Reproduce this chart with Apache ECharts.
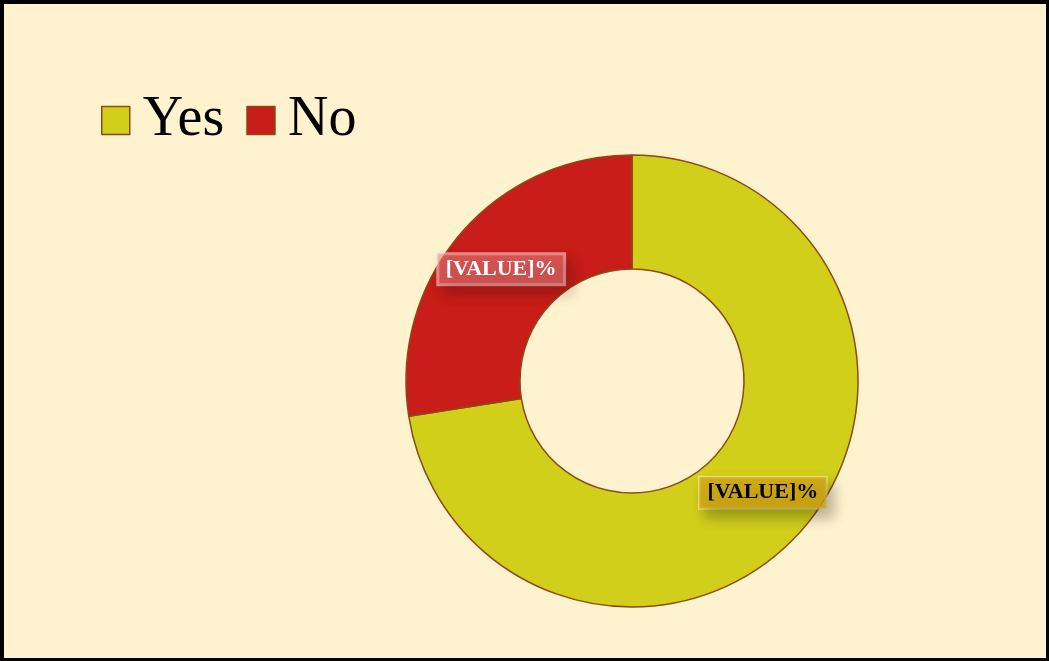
<!DOCTYPE html>
<html>
<head>
<meta charset="UTF-8">
<script src="https://cdn.jsdelivr.net/npm/echarts@6/dist/echarts.min.js"></script>
<style>
  html, body { margin: 0; padding: 0; width: 100%; height: 100%; background: #fff; }
  #main { position: absolute; left: 0; top: 0; width: 1049px; height: 661px; background: #FFF2CF; }
  #frame {
    position: absolute; left: 0; top: 0; width: 1049px; height: 661px;
    box-sizing: border-box; pointer-events: none;
    border-top: 4px solid #000; border-left: 4px solid #000;
    border-right: 3px solid #000; border-bottom: 3px solid #000;
  }
</style>
</head>
<body>
<div id="main"></div>
<div id="frame"></div>
<script>
  const categories = ['Yes', 'No'];
  const values = [72.5, 27.5];
  const colors = ['#D2CF1B', '#C81D19'];

  const chart = echarts.init(document.getElementById('main'));

  const labelStyles = [
    { color: '#000', backgroundColor: 'rgba(210,165,20,0.8)', borderColor: 'rgba(255,240,180,0.6)' },
    { color: '#fff', backgroundColor: 'rgba(240,130,130,0.55)', borderColor: 'rgba(255,220,220,0.6)' }
  ];

  const option = {
    backgroundColor: '#FFF2CF',
    legend: {
      left: 96,
      top: 87,
      icon: 'rect',
      itemWidth: 28,
      itemHeight: 28,
      itemGap: 22,
      textStyle: {
        fontFamily: 'Liberation Serif', fontSize: 56, color: '#000',
        lineHeight: 57, padding: [0, 0, 0, 8]
      },
      itemStyle: { borderColor: '#8B4A14', borderWidth: 1.5 },
      data: categories
    },
    series: [{
      type: 'pie',
      center: [632, 381],
      radius: [112, 226],
      startAngle: 90,
      clockwise: true,
      avoidLabelOverlap: false,
      silent: true,
      itemStyle: { borderColor: '#8B4A14', borderWidth: 1.5 },
      label: {
        show: true,
        position: 'inside',
        formatter: '[VALUE]%',
        fontFamily: 'Liberation Serif',
        fontWeight: 'bold',
        fontSize: 22,
        padding: [5, 8, 4, 8],
        borderWidth: 1.5,
        shadowColor: 'rgba(0,0,0,0.35)',
        shadowBlur: 14,
        shadowOffsetX: 6,
        shadowOffsetY: 8
      },
      labelLine: { show: false },
      data: categories.map((name, i) => ({
        name: name,
        value: values[i],
        itemStyle: { color: colors[i] },
        label: labelStyles[i]
      }))
    }]
  };

  chart.setOption(option);
</script>
</body>
</html>
